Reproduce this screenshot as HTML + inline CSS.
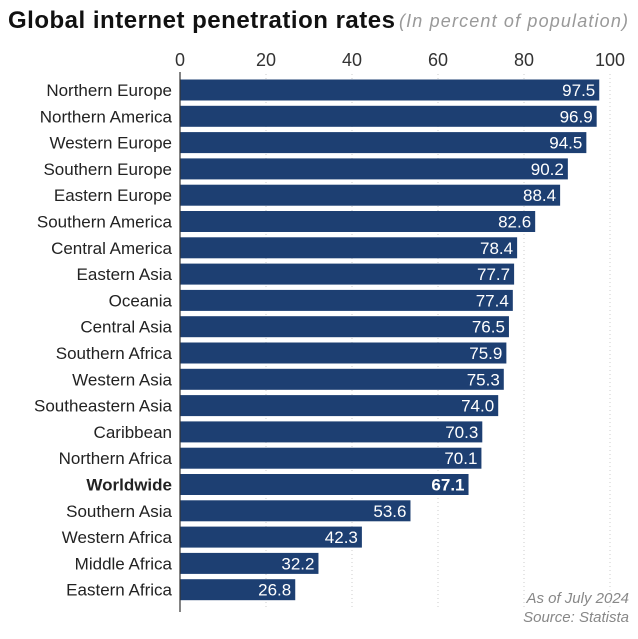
<!DOCTYPE html>
<html><head><meta charset="utf-8"><style>
body{margin:0;background:#fff;font-family:"Liberation Sans",sans-serif;}
svg{display:block}
</style></head><body>
<svg width="638" height="639" id="c">
<text x="8" y="28" font-size="24" font-weight="bold" fill="#111" textLength="387">Global internet penetration rates</text>
<text x="399" y="27" font-size="18" font-style="italic" fill="#999" textLength="229">(In percent of population)</text>
<text x="629" y="603" text-anchor="end" font-size="15" font-style="italic" fill="#888">As of July 2024</text>
<text x="629" y="622" text-anchor="end" font-size="15" font-style="italic" fill="#888">Source: Statista</text>
</svg>
<script>
const categories=["Northern Europe","Northern America","Western Europe","Southern Europe","Eastern Europe","Southern America","Central America","Eastern Asia","Oceania","Central Asia","Southern Africa","Western Asia","Southeastern Asia","Caribbean","Northern Africa","Worldwide","Southern Asia","Western Africa","Middle Africa","Eastern Africa"];
const values=[97.5,96.9,94.5,90.2,88.4,82.6,78.4,77.7,77.4,76.5,75.9,75.3,74.0,70.3,70.1,67.1,53.6,42.3,32.2,26.8];
const ticks=[0,20,40,60,80,100];
const svg=document.getElementById('c');const NS="http://www.w3.org/2000/svg";
const x=v=>180+v*4.3;const y=i=>90+i*26.3;
function mk(t,a){const e=document.createElementNS(NS,t);for(const k in a)e.setAttribute(k,a[k]);svg.appendChild(e);return e;}
ticks.forEach(t=>{
const l=mk('line',{x1:x(t),x2:x(t),y1:74,y2:610,stroke:'#ccc','stroke-dasharray':'1,3'});


const tx=mk('text',{x:x(t),y:66,'text-anchor':'middle','font-size':18,fill:'#333'});tx.textContent=t;


});
categories.forEach((c,i)=>{
const r=mk('rect',{x:x(0),y:y(i)-10.5,width:x(values[i])-x(0),height:21,fill:'#1d3f72'});


const lb=mk('text',{x:172,y:y(i)+6,'text-anchor':'end','font-size':17,fill:'#222','font-weight':c==='Worldwide'?'bold':'normal'});lb.textContent=c;


const v=mk('text',{x:x(values[i])-4,y:y(i)+6,'text-anchor':'end','font-size':17,fill:'#fff','font-weight':c==='Worldwide'?'bold':'normal'});v.textContent=values[i].toFixed(1);


});
const ax=mk('line',{x1:180,x2:180,y1:72,y2:612,stroke:'#333','stroke-width':1.2});


</script>
</body></html>
